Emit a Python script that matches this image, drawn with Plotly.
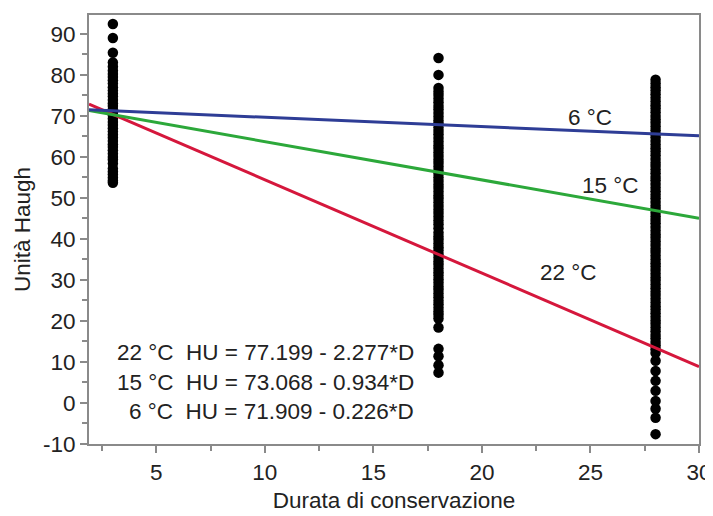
import plotly.graph_objects as go

# Storage days (x) for each group of measurements
day_a = 3
day_b = 18
day_c = 28

hu_day3 = [92.4, 89.0, 85.4, 83.0, 82.0, 81.0, 80.2, 79.5, 78.7, 77.9, 77.0, 76.2, 75.4, 74.7,
           73.9, 73.1, 72.4, 71.6, 70.8, 70.1, 69.3, 68.5, 67.8, 67.0, 66.2, 65.4, 64.7, 63.9,
           63.1, 62.4, 61.6, 60.8, 60.0, 59.3, 58.4, 57.2, 56.4, 55.7, 54.9, 54.2, 53.7]

hu_day18 = [84.1, 80.0, 76.8, 75.9, 75.1, 74.2, 73.3, 72.4, 71.6, 70.7, 69.8, 68.9, 68.1, 67.2,
            66.3, 65.5, 64.6, 63.7, 62.8, 62.0, 61.1, 60.2, 59.3, 58.5, 57.6, 56.7, 55.9, 55.0,
            54.1, 53.2, 52.4, 51.5, 50.6, 49.8, 48.9, 48.0, 47.1, 46.3, 45.4, 44.5, 43.6, 42.6,
            41.5, 40.6, 39.8, 38.9, 38.0, 37.2, 36.3, 35.4, 34.5, 33.7, 32.8, 31.9, 31.1, 30.2,
            29.3, 28.4, 27.6, 26.7, 25.8, 24.9, 24.1, 23.2, 22.3, 21.5, 20.6, 18.4, 13.2, 11.4,
            9.2, 7.4]

hu_day28 = [78.8, 77.9, 77.0, 76.2, 75.3, 74.4, 73.5, 72.6, 71.8, 70.9, 70.0, 69.1, 68.3, 67.4,
            66.5, 65.6, 64.8, 63.9, 63.0, 62.1, 61.3, 60.4, 59.5, 58.6, 57.8, 56.9, 56.0, 55.1,
            54.3, 53.4, 52.5, 51.6, 50.8, 49.9, 49.0, 48.1, 47.3, 46.4, 45.5, 44.6, 43.8, 42.9,
            42.0, 41.1, 40.3, 39.4, 38.5, 37.6, 36.8, 35.9, 35.0, 34.1, 33.3, 32.4, 31.5, 30.6,
            29.8, 28.9, 28.0, 27.1, 26.3, 25.4, 24.5, 23.6, 22.8, 21.9, 21.0, 20.1, 19.3, 18.4,
            17.5, 16.6, 15.8, 14.9, 14.0, 13.1, 12.2, 10.3, 7.8, 5.4, 3.0, 0.5, -1.4, -3.6, -7.6]

# Regression models: HU = a - b*D
temps = ["22 °C", "15 °C", "6 °C"]
intercepts = [77.199, 73.068, 71.909]
slopes = [2.277, 0.934, 0.226]
line_colors = ["#D5173C", "#2CA83A", "#2E3D96"]

x_ticks = [5, 10, 15, 20, 25, 30]
y_ticks = [-10, 0, 10, 20, 30, 40, 50, 60, 70, 80, 90]
y_ticklabels = ["-10", "0", "10", "20", "30", "40", "50", "60", "70", "80", "90"]

x_range = [1.9, 30]
y_range = [-10, 94.6]

fig = go.Figure()

for x0, vals in [(day_a, hu_day3), (day_b, hu_day18), (day_c, hu_day28)]:
    fig.add_trace(go.Scatter(
        x=[x0] * len(vals), y=vals, mode="markers",
        marker=dict(color="black", size=10.5, line=dict(width=0)),
        showlegend=False, hoverinfo="skip"))

for t, a, b, c in zip(temps, intercepts, slopes, line_colors):
    xs = x_range
    ys = [a - b * x for x in xs]
    fig.add_trace(go.Scatter(x=xs, y=ys, mode="lines",
                             line=dict(color=c, width=3), showlegend=False))

font_main = "Liberation Sans, Arial, Helvetica, sans-serif"
txt = "#222222"
fs = 22.5

# Line labels
label_pos = {"6 °C": (25.0, 69.7), "15 °C": (25.9, 53.1), "22 °C": (24.0, 31.8)}
for t in temps:
    lx, ly = label_pos[t]
    fig.add_annotation(x=lx, y=ly, text=t, showarrow=False,
                       font=dict(size=fs, color=txt, family=font_main))

# Equations
eq_y = [12.2, 5.1, -2.0]
for t, a, b, yy in zip(temps, intercepts, slopes, eq_y):
    fig.add_annotation(x=16.95, y=yy, xanchor="right", yanchor="middle",
                       text=f"{t}  HU = {a:.3f} - {b:.3f}*D", showarrow=False,
                       font=dict(size=fs, color=txt, family=font_main))

axis_common = dict(showline=True, linecolor="#8a8a8a", linewidth=2, mirror=True,
                   ticks="outside", tickcolor="#8a8a8a", ticklen=7, tickwidth=2,
                   showgrid=False, zeroline=False, automargin=False,
                   tickfont=dict(size=fs, color=txt, family=font_main))

fig.update_xaxes(range=x_range, tickvals=x_ticks,
                 minor=dict(tickvals=[2.5, 7.5, 12.5, 17.5, 22.5, 27.5], ticklen=5,
                            tickcolor="#8a8a8a", tickwidth=2, ticks="outside"),
                 title=dict(text="Durata di conservazione", standoff=8,
                            font=dict(size=fs, color=txt, family=font_main)),
                 **axis_common)
fig.update_yaxes(range=y_range, tickvals=y_ticks, ticktext=y_ticklabels,
                 minor=dict(tickvals=[-5, 5, 15, 25, 35, 45, 55, 65, 75, 85], ticklen=5,
                            tickcolor="#8a8a8a", tickwidth=2, ticks="outside"),
                 title=dict(text="Unità Haugh", standoff=6,
                            font=dict(size=fs, color=txt, family=font_main)),
                 **axis_common)

# The page body has an 8 px default margin, so the figure is offset by 8 px.
fig.update_layout(width=705, height=508, plot_bgcolor="white", paper_bgcolor="white",
                  margin=dict(l=81, r=14, t=7, b=72), showlegend=False)

fig.write_html("out.html")
